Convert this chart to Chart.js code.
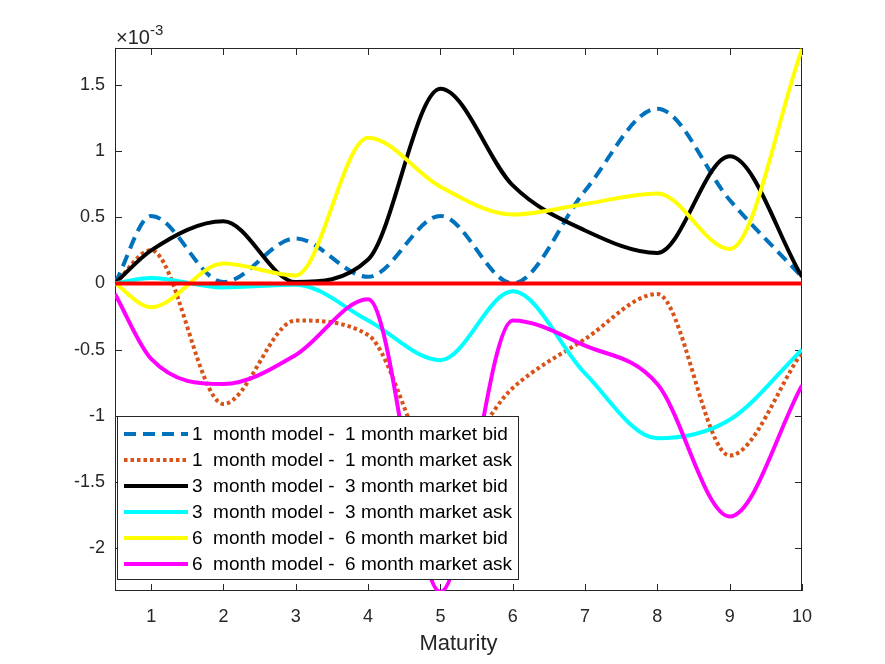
<!DOCTYPE html>
<html>
<head>
<meta charset="utf-8">
<script src="https://cdn.jsdelivr.net/npm/chart.js@4/dist/chart.umd.min.js"></script>
<style>
  html, body { margin: 0; padding: 0; background: #fff; }
  #wrap { width: 885px; height: 664px; }
</style>
</head>
<body>
<div id="wrap"><canvas id="chart"></canvas></div>
<script>
// maturities in years, all differences in units of 1e-3
const maturity = [0.5, 1, 2, 3, 4, 5, 6, 7, 8, 9, 10];

const bid1 = [0, 0.51, 0.01, 0.34, 0.05, 0.51, 0.0, 0.70, 1.32, 0.63, 0.05];
const ask1 = [0, 0.25, -0.91, -0.28, -0.39, -1.40, -0.79, -0.42, -0.08, -1.30, -0.52];
const bid3 = [0, 0.25, 0.47, 0.01, 0.18, 1.47, 0.74, 0.40, 0.23, 0.96, 0.05];
const ask3 = [0, 0.04, -0.03, -0.01, -0.28, -0.58, -0.06, -0.68, -1.17, -1.03, -0.50];
const bid6 = [0, -0.18, 0.15, 0.06, 1.10, 0.73, 0.52, 0.60, 0.68, 0.26, 1.77];
const ask6 = [-0.08, -0.57, -0.76, -0.54, -0.12, -2.33, -0.28, -0.47, -0.76, -1.76, -0.77];
const zeroLine = [0, 0, 0, 0, 0, 0, 0, 0, 0, 0, 0];

const xTicks = [1, 2, 3, 4, 5, 6, 7, 8, 9, 10];
const yTicks = [-2, -1.5, -1, -0.5, 0, 0.5, 1, 1.5];

const FONT = '"Liberation Sans", Arial, Helvetica, sans-serif';
const AXIS = '#262626';
const LW = 4;

const series = [
  { label: '1  month model -  1 month market bid', data: bid1, color: '#0072BD', dash: [12, 7] },
  { label: '1  month model -  1 month market ask', data: ask1, color: '#D95319', dash: [3.5, 3] },
  { label: '3  month model -  3 month market bid', data: bid3, color: '#000000', dash: [] },
  { label: '3  month model -  3 month market ask', data: ask3, color: '#00FFFF', dash: [] },
  { label: '6  month model -  6 month market bid', data: bid6, color: '#FFFF00', dash: [] },
  { label: '6  month model -  6 month market ask', data: ask6, color: '#FF00FF', dash: [] },
];

const toPoints = vals => maturity.map((m, i) => ({ x: m, y: vals[i] }));

const datasets = series.map((s, i) => ({
  label: s.label,
  data: toPoints(s.data),
  borderColor: s.color,
  borderDash: s.dash,
  borderWidth: LW,
  borderCapStyle: 'butt',
  pointRadius: 0,
  fill: false,
  cubicInterpolationMode: 'monotone',
  order: 10 - i
}));
datasets.push({
  label: 'zero',
  data: toPoints(zeroLine),
  borderColor: '#FF0000',
  borderWidth: LW,
  pointRadius: 0,
  tension: 0,
  order: 0
});

// box with inward ticks on all four sides, like a matlab axes
const matlabAxes = {
  id: 'matlabAxes',
  beforeDatasetsDraw(chart) {
    const { ctx, chartArea: a, scales: { x, y } } = chart;
    ctx.save();
    ctx.strokeStyle = AXIS;
    ctx.lineWidth = 1;
    ctx.strokeRect(a.left + 0.5, a.top + 0.5, a.width - 1, a.height - 1);
    ctx.beginPath();
    xTicks.forEach(v => {
      const px = Math.round(x.getPixelForValue(v)) + 0.5;
      ctx.moveTo(px, a.bottom); ctx.lineTo(px, a.bottom - 7);
      ctx.moveTo(px, a.top); ctx.lineTo(px, a.top + 7);
    });
    yTicks.forEach(v => {
      const py = Math.round(y.getPixelForValue(v)) + 0.5;
      ctx.moveTo(a.left, py); ctx.lineTo(a.left + 7, py);
      ctx.moveTo(a.right, py); ctx.lineTo(a.right - 7, py);
    });
    ctx.stroke();
    ctx.restore();
  },
  afterDraw(chart) {
    const { ctx, chartArea: a } = chart;
    ctx.save();
    ctx.fillStyle = AXIS;
    ctx.textBaseline = 'alphabetic';
    ctx.font = '20px ' + FONT;
    ctx.fillText('\u00d710', a.left + 1, 44);
    const w = ctx.measureText('\u00d710').width;
    ctx.font = '15px ' + FONT;
    ctx.fillText('-3', a.left + 1 + w, 35);
    ctx.restore();
  }
};

// legend inside the lower left corner of the axes
const boxLegend = {
  id: 'boxLegend',
  afterDatasetsDraw(chart) {
    const { ctx, chartArea: a } = chart;
    const left = a.left + 2, top = a.bottom - 175, w = 401, h = 163;
    ctx.save();
    ctx.fillStyle = '#fff';
    ctx.fillRect(left, top, w, h);
    ctx.strokeStyle = AXIS;
    ctx.lineWidth = 1;
    ctx.strokeRect(left + 0.5, top + 0.5, w, h);
    ctx.font = '19px ' + FONT;
    ctx.textBaseline = 'middle';
    series.forEach((s, i) => {
      const cy = top + 18 + i * 26;
      ctx.beginPath();
      ctx.setLineDash(s.dash);
      ctx.strokeStyle = s.color;
      ctx.lineWidth = LW;
      ctx.moveTo(left + 7, cy);
      ctx.lineTo(left + 71, cy);
      ctx.stroke();
      ctx.setLineDash([]);
      ctx.fillStyle = '#000';
      ctx.fillText(s.label, left + 75, cy + 1);
    });
    ctx.restore();
  }
};

new Chart(document.getElementById('chart'), {
  type: 'line',
  data: { datasets },
  options: {
    responsive: true,
    maintainAspectRatio: false,
    animation: false,
    layout: { padding: { top: 48, right: 83, left: 0, bottom: 0 } },
    plugins: { legend: { display: false }, tooltip: { enabled: false } },
    scales: {
      x: {
        type: 'linear',
        min: 0.5,
        max: 10,
        afterBuildTicks: s => { s.ticks = xTicks.map(v => ({ value: v })); },
        afterFit: s => { s.height = 73; },
        grid: { display: false, drawTicks: false },
        border: { display: false },
        ticks: { font: { family: FONT, size: 18 }, color: AXIS, padding: 15, maxRotation: 0, callback: v => String(v) },
        title: { display: true, text: 'Maturity', font: { family: FONT, size: 22 }, color: AXIS, padding: { top: 0, bottom: 7 } }
      },
      y: {
        min: -2.323,
        max: 1.778,
        afterBuildTicks: s => { s.ticks = yTicks.map(v => ({ value: v })); },
        afterFit: s => { s.width = 115; },
        grid: { display: false, drawTicks: false },
        border: { display: false },
        ticks: { font: { family: FONT, size: 18 }, color: AXIS, padding: 10, callback: v => String(v) }
      }
    }
  },
  plugins: [matlabAxes, boxLegend]
});
</script>
</body>
</html>
